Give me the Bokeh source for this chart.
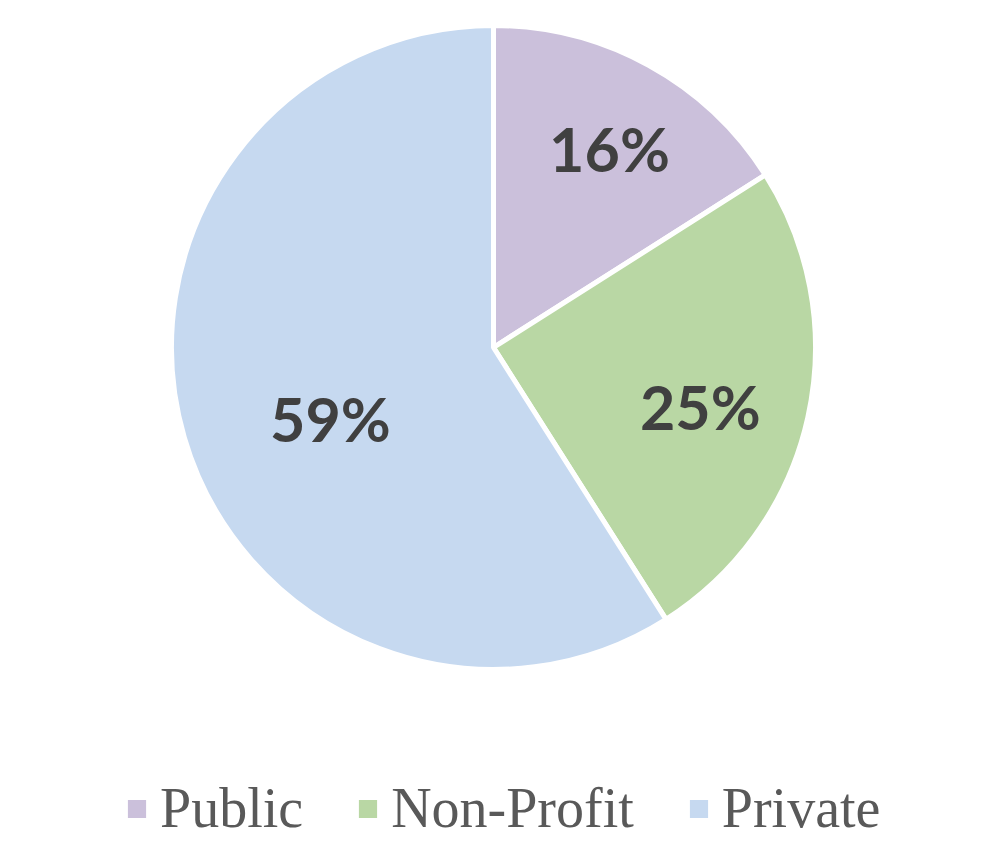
import math
from bokeh.plotting import figure
from bokeh.models import ColumnDataSource, Range1d
from bokeh.core.properties import value
from bokeh.embed import file_html
from bokeh.resources import INLINE

# ---- data ----
categories = ["Public", "Non-Profit", "Private"]
shares = [16, 25, 59]
colors = ["#CBC0DB", "#B9D7A4", "#C6D9F0"]
pct_labels = ["16%", "25%", "59%"]

# ---- label placement (style) ----
label_frac = [0.714, 0.668, 0.552]
label_shift_deg = [1.5, 3.3, -7.2]

W, H = 976, 842
cx, cy, R = 493, H - 347, 322

total = float(sum(shares))
starts, ends, lx, ly = [], [], [], []
acc = 0.0
for i, s in enumerate(shares):
    a0 = math.pi / 2 - acc / total * 2 * math.pi
    acc += s
    a1 = math.pi / 2 - acc / total * 2 * math.pi
    starts.append(a0)
    ends.append(a1)
    mid = (a0 + a1) / 2 - math.radians(label_shift_deg[i])
    lx.append(cx + R * label_frac[i] * math.cos(mid))
    ly.append(cy + R * label_frac[i] * math.sin(mid))

src = ColumnDataSource(dict(cat=categories, start=starts, end=ends, color=colors,
                            x=[cx] * 3, y=[cy] * 3, lx=lx, ly=ly, txt=pct_labels))

p = figure(width=W, height=H, output_backend="svg", toolbar_location=None,
           x_range=Range1d(0, W), y_range=Range1d(0, H), min_border=0)
p.axis.visible = False
p.grid.visible = False
p.outline_line_color = None
p.background_fill_color = "white"
p.border_fill_color = "white"

p.wedge(x="x", y="y", radius=R, start_angle="start", end_angle="end",
        direction="clock", fill_color="color", line_color="white", line_width=5,
        legend_field="cat", source=src)

p.text(x="lx", y="ly", text="txt", source=src, text_align="center",
       text_baseline="middle", text_font=value("Lato"), text_font_style="bold",
       text_font_size="61px", text_color="#404040")

lg = p.legend[0]
lg.orientation = "horizontal"
lg.location = (122, 2)
lg.padding = 0
lg.margin = 0
lg.spacing = 50
lg.border_line_color = None
lg.background_fill_alpha = 0
lg.glyph_width = 29
lg.glyph_height = 29
lg.label_standoff = 9
lg.label_text_font = "Liberation Serif"
lg.label_text_font_size = "56px"
lg.label_text_color = "#595959"

open("out.html", "w").write(file_html(p, INLINE))
